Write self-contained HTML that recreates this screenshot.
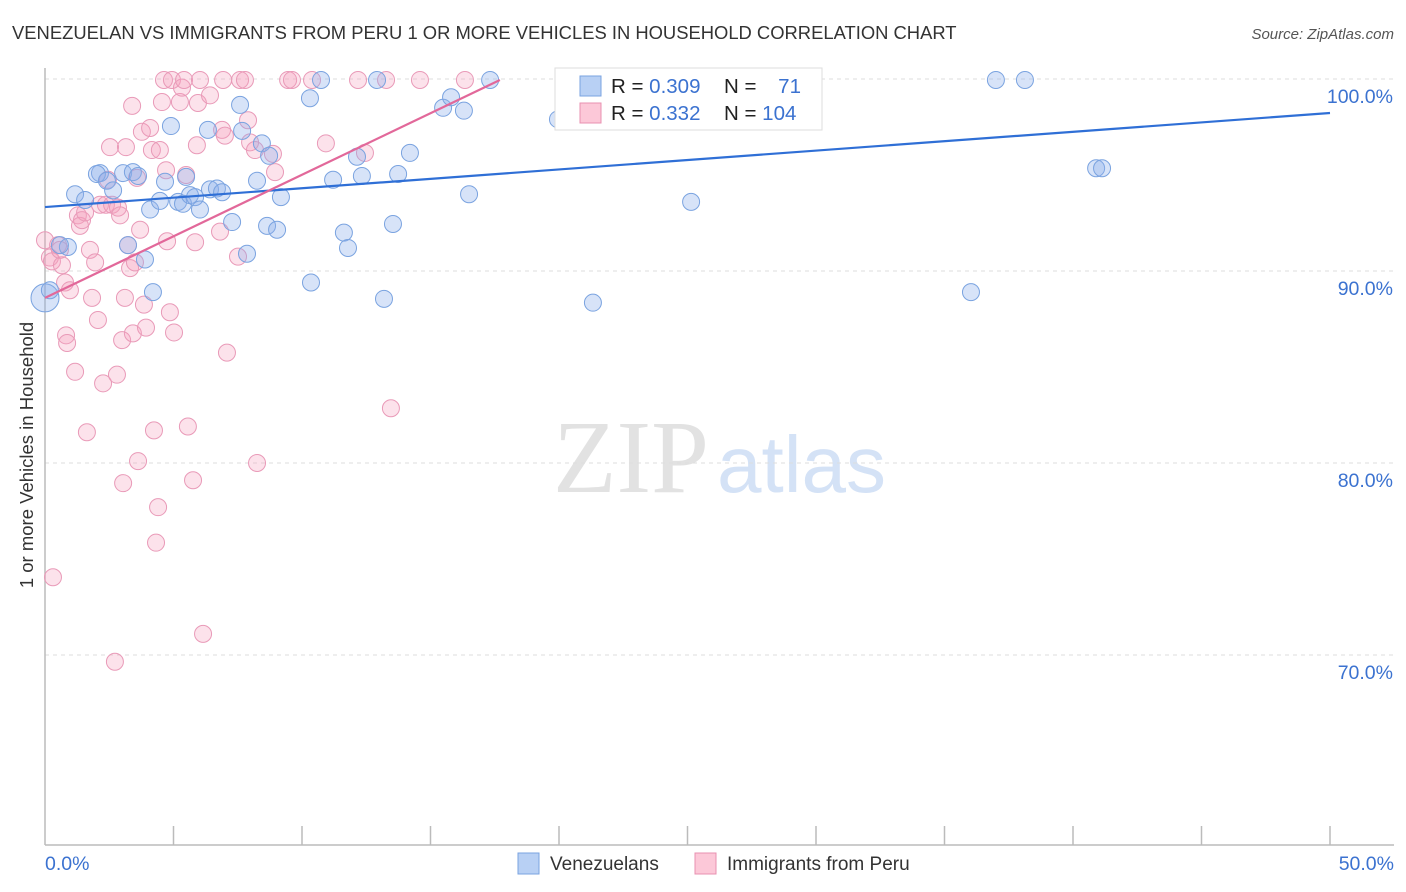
<!DOCTYPE html>
<html><head><meta charset="utf-8"><style>
body{margin:0;background:#fff;}
svg{display:block;font-family:"Liberation Sans",sans-serif;}
</style></head><body>
<svg id="chart" width="1406" height="892" viewBox="0 0 1406 892">
<text x="12" y="39" font-size="18.4" fill="#333">VENEZUELAN VS IMMIGRANTS FROM PERU 1 OR MORE VEHICLES IN HOUSEHOLD CORRELATION CHART</text>
<text x="1394" y="39" font-size="15" fill="#555" font-style="italic" text-anchor="end">Source: ZipAtlas.com</text>
<text transform="translate(33,455) rotate(-90)" font-size="18.5" fill="#333" text-anchor="middle">1 or more Vehicles in Household</text>
<g>
<text x="553" y="492" font-family="Liberation Serif,serif" font-size="104" fill="#e2e2e2">ZIP</text>
<text x="717" y="492" font-size="80" fill="#d4e2f6">atlas</text>
</g>
<g id="grid"></g>
<g id="axes"></g>
<g id="pts"></g>
<g id="trend"></g>
<g>
<rect x="555" y="68" width="267" height="62" fill="#fff" stroke="#ddd"/>
<rect x="580" y="76" width="21" height="20" fill="#b8d0f4" stroke="#7aa3e0"/>
<rect x="580" y="103" width="21" height="20" fill="#fcc8d8" stroke="#e890b0"/>
<text x="611" y="93" font-size="20.5" fill="#222">R = <tspan fill="#3b72d0"> 0.309</tspan></text>
<text x="724" y="93" font-size="20.5" fill="#222">N = <tspan fill="#3b72d0" dx="16">71</tspan></text>
<text x="611" y="120" font-size="20.5" fill="#222">R = <tspan fill="#3b72d0"> 0.332</tspan></text>
<text x="724" y="120" font-size="20.5" fill="#222">N = <tspan fill="#3b72d0">104</tspan></text>
</g>
<g>
<rect x="518" y="853" width="21" height="21" fill="#b8d0f4" stroke="#7aa3e0"/>
<text x="550" y="870" font-size="19" fill="#333">Venezuelans</text>
<rect x="695" y="853" width="21" height="21" fill="#fcc8d8" stroke="#e890b0"/>
<text x="727" y="870" font-size="19" fill="#333">Immigrants from Peru</text>
</g>
</svg>
<script>
const yTicks=[100,90,80,70];
const xTickVals=[0,5,10,15,20,25,30,35,40,45,50];
const blueX=[0,0.19,1.17,1.56,0.89,0.58,2.14,2.02,2.41,2.65,3.04,3.42,3.62,3.23,3.89,4.09,4.2,4.47,4.67,4.9,5.18,5.49,5.37,5.64,5.84,6.03,6.34,6.42,6.69,6.89,7.28,7.59,7.67,7.86,8.25,8.44,8.64,8.72,9.03,9.18,10.31,10.35,10.74,11.21,11.63,11.79,12.14,12.33,12.92,13.19,13.54,13.74,14.2,15.49,15.8,16.3,16.5,17.32,19.96,21.32,25.14,36.03,37.0,38.13,40.9,41.13];
const blueY=[88.6,89.0,94.0,93.7,91.25,91.35,95.1,95.05,94.7,94.2,95.1,95.15,94.95,91.35,90.6,93.2,88.9,93.65,94.65,97.55,93.6,94.9,93.5,93.95,93.85,93.2,97.35,94.25,94.3,94.1,92.55,98.65,97.3,90.9,94.7,96.65,92.35,96.0,92.15,93.85,99.0,89.4,99.95,94.75,92.0,91.2,95.95,94.95,99.95,88.55,92.45,95.05,96.15,98.5,99.05,98.35,94.0,99.95,97.9,88.35,93.6,88.9,99.95,99.95,95.35,95.35];
const pinkX=[0.31,0,0.19,0.27,0.51,0.58,0.66,0.78,0.82,0.86,0.97,1.17,1.28,1.36,1.44,1.56,1.63,1.75,1.83,1.95,2.06,2.14,2.26,2.37,2.45,2.53,2.61,2.72,2.8,2.84,2.92,3.0,3.04,3.11,3.15,3.23,3.31,3.39,3.42,3.5,3.58,3.62,3.7,3.77,3.85,3.93,4.09,4.16,4.24,4.32,4.4,4.47,4.55,4.63,4.71,4.75,4.86,4.94,5.02,5.25,5.33,5.41,5.49,5.56,5.76,5.84,5.91,5.95,6.03,6.15,6.42,6.81,6.89,6.93,7.0,7.08,7.51,7.59,7.78,7.9,7.98,8.17,8.25,8.87,8.95,9.46,9.61,10.39,10.93,12.18,12.45,13.27,13.46,14.59,16.34];
const pinkY=[74.05,91.6,90.7,90.5,91.35,91.1,90.3,89.4,86.65,86.25,89.0,84.75,92.9,92.35,92.65,93.05,81.6,91.1,88.6,90.45,87.45,93.45,84.15,93.45,94.75,96.45,93.45,69.65,84.6,93.3,92.9,86.4,78.95,88.6,96.45,91.35,90.15,98.6,86.75,90.45,94.85,80.1,92.15,97.25,88.25,87.05,97.45,96.3,81.7,75.85,77.7,96.3,98.8,99.95,95.25,91.55,87.85,99.95,86.8,98.8,99.55,99.95,95.0,81.9,79.1,91.5,96.55,98.75,99.95,71.1,99.15,92.05,97.35,99.95,97.05,85.75,90.75,99.95,99.95,97.85,96.7,96.3,80.0,96.1,95.15,99.95,99.95,99.95,96.65,99.95,96.15,99.95,82.85,99.95,99.95];
const blueTrend=[93.33,98.23];
const pinkTrend=[88.6,99.95,17.7];
const NS='http://www.w3.org/2000/svg';
const X=v=>45+v/50*1285;
const Y=v=>79+(100-v)*19.2;
function mk(tag,attrs,parent){const e=document.createElementNS(NS,tag);for(const k in attrs)e.setAttribute(k,attrs[k]);parent.appendChild(e);return e;}
const grid=document.getElementById('grid'),axes=document.getElementById('axes'),pts=document.getElementById('pts'),trend=document.getElementById('trend');
yTicks.forEach(t=>{
 const l=mk('line',{x1:45,x2:1394,y1:Y(t),y2:Y(t),stroke:'#ddd','stroke-dasharray':'4,4'},grid);
 
 
 const tx=mk('text',{x:1393,y:Y(t)+24,'font-size':19.5,fill:'#3b72d0','text-anchor':'end'},grid);
 tx.textContent=t.toFixed(1)+'%';
 
 
});
const ya=mk('line',{x1:45,x2:45,y1:68,y2:845,stroke:'#bbb','stroke-width':1.5},axes);


const xa=mk('line',{x1:45,x2:1394,y1:845,y2:845,stroke:'#bbb','stroke-width':1.5},axes);


xTickVals.forEach(t=>{
 if(t===0)return;
 const l=mk('line',{x1:X(t),x2:X(t),y1:826,y2:845,stroke:'#bbb','stroke-width':1.5},axes);
 
 
});
const xl0=mk('text',{x:45,y:870,'font-size':19.5,fill:'#3b72d0'},axes);xl0.textContent='0.0%';


const xl1=mk('text',{x:1394,y:870,'font-size':19.5,fill:'#3b72d0','text-anchor':'end'},axes);xl1.textContent='50.0%';


pinkX.forEach((x,i)=>{
 const c=mk('circle',{cx:X(x),cy:Y(pinkY[i]),r:8.5,fill:'rgba(244,160,190,0.3)',stroke:'#e99ab8','stroke-width':1},pts);
 
 
});
blueX.forEach((x,i)=>{
 const c=mk('circle',{cx:X(x),cy:Y(blueY[i]),r:i===0?14:8.5,fill:'rgba(140,175,235,0.35)',stroke:'#7aa3e0','stroke-width':1},pts);
 
 
});
const bt=mk('line',{x1:X(0),y1:Y(blueTrend[0]),x2:X(50),y2:Y(blueTrend[1]),stroke:'#2f6fd6','stroke-width':2.2},trend);


const pt=mk('line',{x1:X(0),y1:Y(pinkTrend[0]),x2:X(pinkTrend[2]),y2:Y(pinkTrend[1]),stroke:'#e2689a','stroke-width':2.2},trend);


</script>
</body></html>
